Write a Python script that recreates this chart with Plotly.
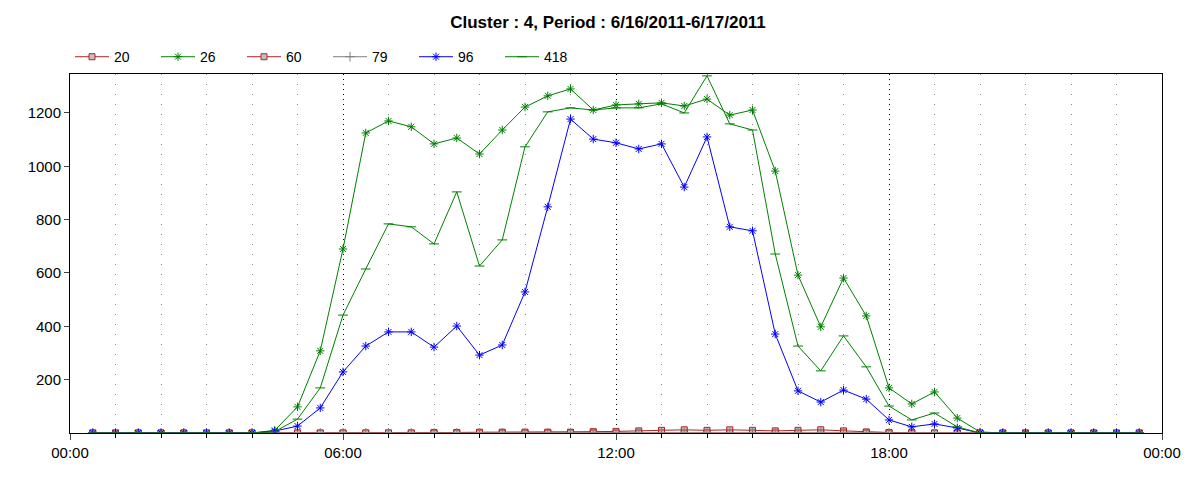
import plotly.graph_objects as go

# half-hour slots from 00:30 to 23:30 (in hours)
hours = [h / 2 for h in range(1, 48)]

s20 = [0]*12 + [0, 0, 0, 2, 2, 3, 3, 3, 3, 3, 5, 6, 8, 10, 12, 10, 12, 10, 8, 10, 12, 8, 4, 2, 0] + [0]*10
s60 = [0]*47
s79 = [0]*47
s96 = [0]*7 + [0, 7, 26, 94, 229, 326, 379, 379, 322, 401, 292, 330, 529, 848, 1177, 1102, 1088, 1065, 1084,
                922, 1110, 773, 758, 371, 158, 116, 161, 127, 49, 23, 34, 19, 0] + [0]*7
s26 = [0]*7 + [0, 10, 98, 308, 690, 1125, 1170, 1148, 1084, 1106, 1046, 1136, 1222, 1264, 1290, 1211, 1230,
                1234, 1238, 1226, 1252, 1192, 1211, 982, 592, 398, 581, 439, 169, 109, 154, 56, 4] + [0]*7
s418 = [0]*7 + [0, 5, 52, 169, 442, 615, 784, 773, 709, 904, 626, 724, 1073, 1204, 1219, 1211, 1219, 1219,
                 1234, 1200, 1339, 1159, 1136, 671, 326, 233, 364, 248, 101, 49, 75, 23, 0] + [0]*7

tick_vals = [0, 6, 12, 18, 24]
tick_text = ["00:00", "06:00", "12:00", "18:00", "00:00"]

sq = dict(symbol="square", size=6, color="#c0c0c0", line=dict(color="#b22222", width=1))
fig = go.Figure()
fig.add_trace(go.Scatter(x=hours, y=s20, name="20", mode="lines+markers",
                         line=dict(color="#b22222", width=1), marker=sq))
fig.add_trace(go.Scatter(x=hours, y=s26, name="26", mode="lines+markers",
                         line=dict(color="green", width=1),
                         marker=dict(symbol="asterisk-open", size=7, color="green", line=dict(color="green", width=1))))
fig.add_trace(go.Scatter(x=hours, y=s60, name="60", mode="lines+markers",
                         line=dict(color="#b22222", width=1), marker=sq))
fig.add_trace(go.Scatter(x=hours, y=s79, name="79", mode="lines+markers",
                         line=dict(color="gray", width=1),
                         marker=dict(symbol="cross-thin-open", size=7, line=dict(color="gray", width=1))))
fig.add_trace(go.Scatter(x=hours, y=s96, name="96", mode="lines+markers",
                         line=dict(color="blue", width=1),
                         marker=dict(symbol="asterisk-open", size=7, color="blue", line=dict(color="blue", width=1))))
fig.add_trace(go.Scatter(x=hours, y=s418, name="418", mode="lines+markers",
                         line=dict(color="green", width=1),
                         marker=dict(symbol="line-ew-open", size=7, line=dict(color="green", width=1))))

fig.update_layout(
    width=1200, height=480, plot_bgcolor="white", paper_bgcolor="white",
    font=dict(family="Liberation Sans", size=15, color="black"),
    title=dict(text="<b>Cluster : 4, Period : 6/16/2011-6/17/2011</b>", x=0.5, y=0.97, yref="container",
               xanchor="center", yanchor="middle", font=dict(size=17)),
    margin=dict(l=62, r=46, t=66, b=55, autoexpand=False),
    legend=dict(orientation="h", x=0.0, y=1.047, xanchor="left", yanchor="middle",
                font=dict(size=14), itemwidth=34, entrywidth=37),
)
fig.update_xaxes(range=[0, 24], tickvals=tick_vals, ticktext=tick_text, ticks="outside", ticklen=6,
                 showline=True, linecolor="black", mirror=True, showgrid=True, gridcolor="black",
                 griddash="1px,4px", gridwidth=1, zeroline=False,
                 minor=dict(dtick=1, tick0=0, showgrid=True, gridcolor="#888888", griddash="1px,9px",
                            ticks="outside", ticklen=4, tickcolor="black"))
fig.update_yaxes(range=[0, 1346], tickvals=[200, 400, 600, 800, 1000, 1200], ticks="outside", ticklen=5,
                 showline=True, linecolor="black", mirror=True, showgrid=False, zeroline=False)

fig.write_html("out.html")
